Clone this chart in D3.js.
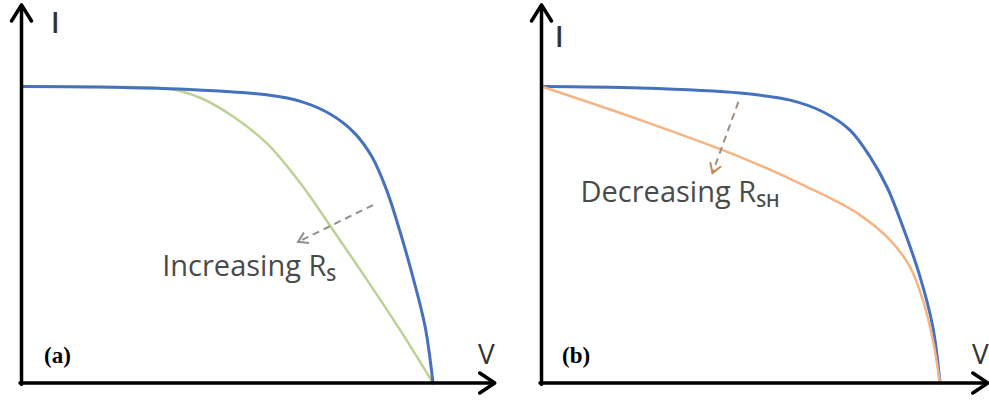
<!DOCTYPE html>
<html>
<head>
<meta charset="utf-8">
<script src="https://cdn.jsdelivr.net/npm/d3@7"></script>
<style>
  body { margin: 0; background: #fff; }
  svg { display: block; }
</style>
</head>
<body>
<div id="my_dataviz"></div>
<script>
// normalised I-V curves (V / Voc, I / Isc)
var vBlueA  = [0, 0.19, 0.43, 0.60, 0.68, 0.75, 0.81, 0.852, 0.888, 0.92, 0.951, 0.981, 1];
var iBlueA  = [1, 0.998, 0.988, 0.971, 0.949, 0.907, 0.842, 0.762, 0.648, 0.510, 0.358, 0.189, 0];
var vGreenA = [0, 0.19, 0.354, 0.434, 0.515, 0.597, 0.677, 0.757, 0.84, 0.92, 1];
var iGreenA = [1, 0.998, 0.993, 0.962, 0.898, 0.807, 0.675, 0.516, 0.347, 0.179, 0];

var vBlueB   = [0, 0.248, 0.499, 0.624, 0.707, 0.774, 0.825, 0.867, 0.907, 0.95, 0.982, 1];
var iBlueB   = [1, 0.995, 0.978, 0.954, 0.914, 0.853, 0.762, 0.661, 0.526, 0.358, 0.189, 0];
var vOrangeB = [0, 0.248, 0.499, 0.667, 0.792, 0.875, 0.925, 0.957, 0.982, 1];
var iOrangeB = [1, 0.887, 0.762, 0.661, 0.573, 0.482, 0.391, 0.280, 0.145, 0];

// annotation arrows (start, end) in V/I units
var arrowA = [[0.854, 0.600], [0.672, 0.476]];
var arrowB = [[0.494, 0.948], [0.429, 0.708]];

var width = 989, height = 402;

var svg = d3.select("#my_dataviz")
    .append("svg")
    .attr("width", width)
    .attr("height", height)
    .style("font-family", "'Open Sans', sans-serif");

var y = d3.scaleLinear().domain([0, 1]).range([383, 86.5]);

var panels = [
  { x: d3.scaleLinear().domain([0, 1]).range([21.5, 433]), xTip: 1.15,
    curves: [
      { v: vGreenA, i: iGreenA, color: "#bcd193", w: 2.5 },
      { v: vBlueA, i: iBlueA, color: "#4571bf", w: 3 }
    ],
    arrow: arrowA, arrowColor: "#8f8f8f", headColor: "#8f8f8f",
    label: "Increasing R", sub: "S", labelAt: [0.342, 0.36],
    tag: "(a)", tagX: 44, iLabel: [51, 33], vLabel: [478, 364] },
  { x: d3.scaleLinear().domain([0, 1]).range([541.5, 940]), xTip: 1.12,
    curves: [
      { v: vBlueB, i: iBlueB, color: "#4571bf", w: 3 },
      { v: vOrangeB, i: iOrangeB, color: "#f4b483", w: 2.5 }
    ],
    arrow: arrowB, arrowColor: "#a08d7e", headColor: "#c98a55",
    label: "Decreasing R", sub: "SH", labelAt: [0.098, 0.610],
    tag: "(b)", tagX: 562, iLabel: [555, 47], vLabel: [972, 364] }
];

var yTip = 1.275;

panels.forEach(function(p) {
  var g = svg.append("g");
  var x = p.x;

  // curves
  p.curves.forEach(function(c) {
    var pts = c.v.map(function(d, k) { return [d, c.i[k]]; });
    g.append("path")
      .datum(pts)
      .attr("fill", "none")
      .attr("stroke", c.color)
      .attr("stroke-width", c.w)
      .attr("stroke-linecap", "round")
      .attr("d", d3.line()
        .x(function(d) { return x(d[0]); })
        .y(function(d) { return y(d[1]); })
        .curve(d3.curveCatmullRom.alpha(0.5)));
  });

  // axes with open arrowheads
  var x0 = x(0), y0 = y(0), xe = x(p.xTip), ye = y(yTip);
  var ax = g.append("g").attr("stroke", "#000").attr("fill", "none")
    .attr("stroke-width", 3.5).attr("stroke-linecap", "round").attr("stroke-linejoin", "round");
  ax.append("path").attr("d", "M" + x0 + "," + (y0 + 1.5) + "V" + (ye + 1));
  ax.append("path").attr("d", "M" + (x0 - 1.5) + "," + y0 + "H" + (xe - 1));
  ax.append("path").attr("d", "M" + (x0 - 10) + "," + (ye + 16) + "L" + x0 + "," + ye + "L" + (x0 + 10) + "," + (ye + 16));
  ax.append("path").attr("d", "M" + (xe - 15) + "," + (y0 - 10) + "L" + xe + "," + y0 + "L" + (xe - 15) + "," + (y0 + 10));

  // dashed annotation arrow
  var a0 = [x(p.arrow[0][0]), y(p.arrow[0][1])], a1 = [x(p.arrow[1][0]), y(p.arrow[1][1])];
  g.append("line")
    .attr("x1", a0[0]).attr("y1", a0[1]).attr("x2", a1[0]).attr("y2", a1[1])
    .attr("stroke", p.arrowColor).attr("stroke-width", 2)
    .attr("stroke-dasharray", "7,5");
  var ang = Math.atan2(a1[1] - a0[1], a1[0] - a0[0]);
  var hl = 11, spread = 0.55;
  g.append("path")
    .attr("fill", "none").attr("stroke", p.headColor).attr("stroke-width", 2)
    .attr("d", "M" + (a1[0] - hl * Math.cos(ang - spread)) + "," + (a1[1] - hl * Math.sin(ang - spread)) +
      "L" + a1[0] + "," + a1[1] +
      "L" + (a1[0] - hl * Math.cos(ang + spread)) + "," + (a1[1] - hl * Math.sin(ang + spread)));

  // annotation text
  var t = g.append("text")
    .attr("x", x(p.labelAt[0])).attr("y", y(p.labelAt[1]))
    .attr("fill", "#4a4a4a").attr("font-size", 29);
  t.append("tspan").text(p.label);
  t.append("tspan").attr("font-size", 18).attr("font-weight", 600).attr("dy", 5).text(p.sub);

  // axis labels
  g.append("text").attr("x", p.iLabel[0]).attr("y", p.iLabel[1])
    .attr("font-size", 28).attr("font-weight", 600).attr("fill", "#333").text("I");
  g.append("text").attr("x", p.vLabel[0]).attr("y", p.vLabel[1])
    .attr("font-size", 28).attr("fill", "#333").text("V");

  // panel tag
  g.append("text").attr("x", p.tagX).attr("y", 363)
    .attr("font-family", "'Liberation Serif', 'Times New Roman', serif")
    .attr("font-weight", "bold").attr("font-size", 23).attr("fill", "#000")
    .text(p.tag);
});
</script>
</body>
</html>
